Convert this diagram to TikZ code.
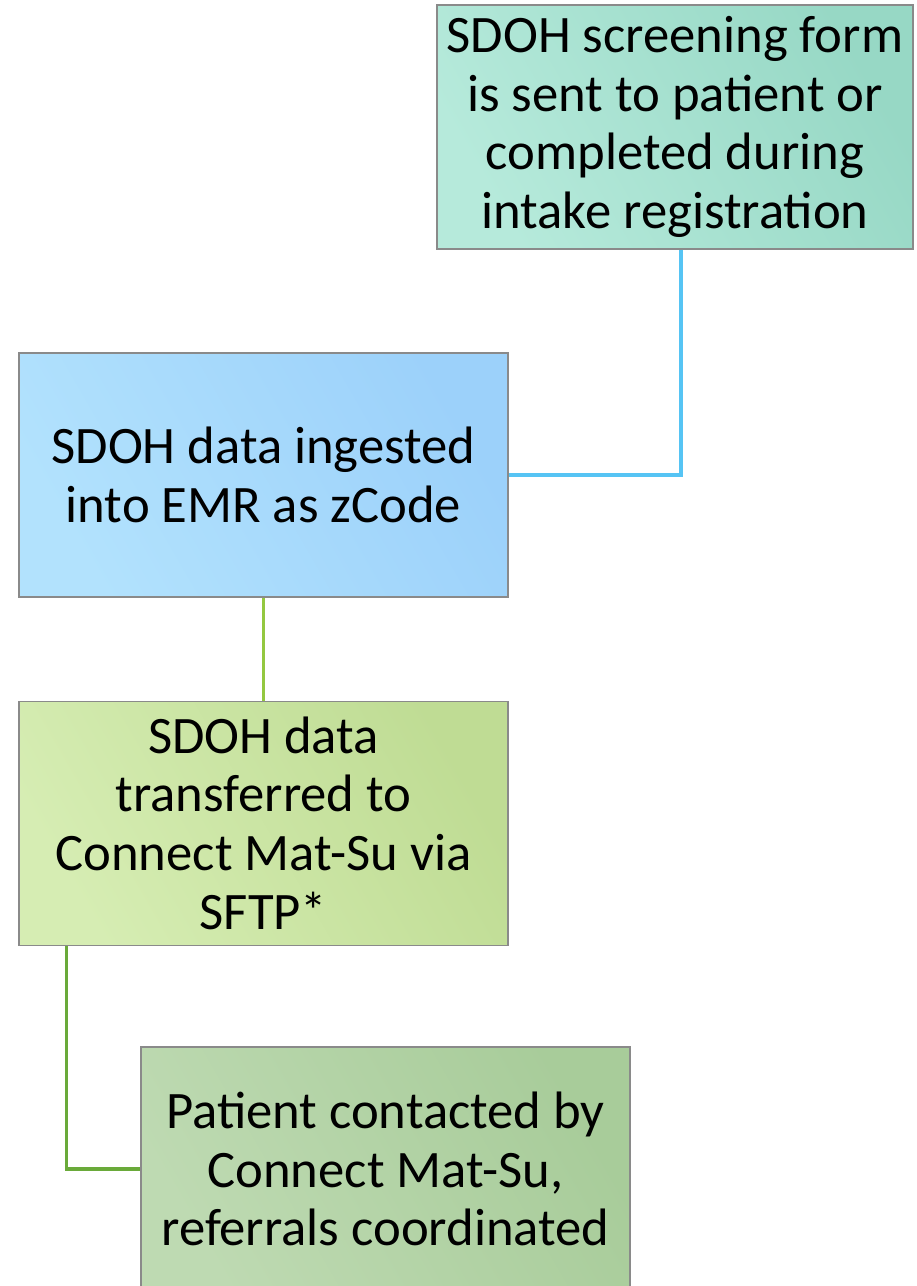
\documentclass[tikz,border=0pt]{standalone}
\usepackage{fontspec}
\setmainfont{Carlito}
\usetikzlibrary{positioning}

\definecolor{tealA}{HTML}{B6EADB}
\definecolor{tealB}{HTML}{97D8C5}
\definecolor{blueA}{HTML}{B2E2FD}
\definecolor{blueB}{HTML}{9CD1FA}
\definecolor{limeA}{HTML}{D6EDB3}
\definecolor{limeB}{HTML}{BFDC94}
\definecolor{sageA}{HTML}{BEDAB2}
\definecolor{sageB}{HTML}{A8CC9A}
\definecolor{edgegray}{HTML}{8A8A8A}
\definecolor{linkblue}{HTML}{56C4F4}
\definecolor{linklime}{HTML}{94C840}
\definecolor{linkgreen}{HTML}{6AAA3A}

\begin{document}
\begin{tikzpicture}[
    x=0.75pt, y=-0.75pt,
    font=\fontsize{39.5}{44}\selectfont,
    step_box/.style={rectangle, draw=edgegray, line width=0.9pt, inner sep=1pt, align=center, minimum width=366.75pt, minimum height=183pt},
    link/.style={line width=2.6pt}
]
\useasboundingbox (0,0) rectangle (917,1286);

% Nodes
\node[step_box, minimum width=357pt, left color=tealA, right color=tealB, shading angle=120] (screening) at (675,127)
    {SDOH screening form\\is sent to patient or\\completed during\\intake registration};
\node[step_box, left color=blueA, right color=blueB, shading angle=120] (ingest) at (263.5,475)
    {SDOH data ingested\\into EMR as zCode};
\node[step_box, below=77.25pt of ingest, left color=limeA, right color=limeB, shading angle=120] (transfer)
    {SDOH data\\transferred to\\Connect Mat-Su via\\SFTP*};
\node[step_box, left color=sageA, right color=sageB, shading angle=120] (contact) at (385.5,1169)
    {Patient contacted by\\Connect Mat-Su,\\referrals coordinated};

% Connections
\draw[link, linkblue] ([xshift=4.5pt]screening.south) |- (ingest.east);
\draw[link, linklime] (ingest.south) -- (transfer.north);
\draw[link, linkgreen] ([xshift=36pt]transfer.south west) |- (contact.west);

\end{tikzpicture}
\end{document}
